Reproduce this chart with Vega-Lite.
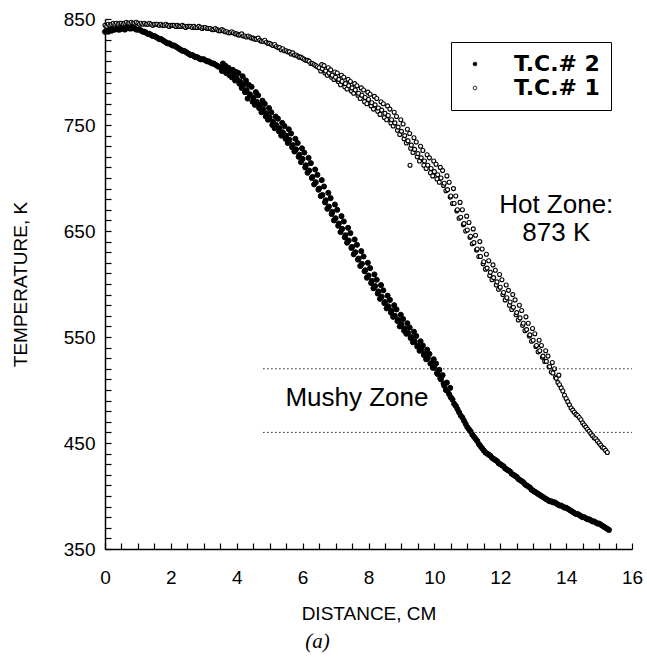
{
  "$schema": "https://vega.github.io/schema/vega-lite/v6.json",
  "width": 527,
  "height": 530,
  "autosize": {"type": "none"},
  "padding": {"left": 105, "top": 19, "right": 15, "bottom": 119},
  "config": {"view": {"stroke": null}, "font": "Liberation Sans"},
  "title": {"text": "(a)", "orient": "bottom", "font": "Liberation Serif", "fontStyle": "italic", "fontWeight": "normal", "fontSize": 21, "color": "black", "dx": -51, "offset": 8},
  "datasets": {
    "tc2": [
      {"d":0,"t":838},{"d":0.05,"t":839},{"d":0.1,"t":838},{"d":0.15,"t":840},{"d":0.2,"t":839},{"d":0.25,"t":840},{"d":0.3,"t":840},{"d":0.35,"t":841},{"d":0.4,"t":840},{"d":0.45,"t":840},{"d":0.5,"t":841},{"d":0.55,"t":841},{"d":0.6,"t":840},{"d":0.65,"t":841},{"d":0.7,"t":842},{"d":0.75,"t":841},{"d":0.8,"t":841},{"d":0.85,"t":842},{"d":0.9,"t":841},{"d":0.95,"t":840},
      {"d":1.0,"t":840},{"d":1.05,"t":840},{"d":1.1,"t":839},{"d":1.15,"t":838},{"d":1.2,"t":838},{"d":1.25,"t":837},{"d":1.3,"t":836},{"d":1.35,"t":836},{"d":1.4,"t":835},{"d":1.45,"t":834},{"d":1.5,"t":834},{"d":1.55,"t":833},{"d":1.6,"t":832},{"d":1.65,"t":831},{"d":1.7,"t":831},{"d":1.75,"t":830},{"d":1.8,"t":829},{"d":1.85,"t":828},{"d":1.9,"t":827},{"d":1.95,"t":827},
      {"d":2.0,"t":826},{"d":2.05,"t":825},{"d":2.1,"t":825},{"d":2.15,"t":824},{"d":2.2,"t":823},{"d":2.25,"t":822},{"d":2.3,"t":821},{"d":2.35,"t":820},{"d":2.4,"t":820},{"d":2.45,"t":819},{"d":2.5,"t":818},{"d":2.55,"t":817},{"d":2.6,"t":816},{"d":2.65,"t":816},{"d":2.7,"t":815},{"d":2.75,"t":814},{"d":2.8,"t":814},{"d":2.85,"t":813},{"d":2.9,"t":812},{"d":2.95,"t":812},
      {"d":3.0,"t":812},{"d":3.05,"t":811},{"d":3.1,"t":810},{"d":3.15,"t":810},{"d":3.2,"t":809},{"d":3.25,"t":808},{"d":3.3,"t":808},{"d":3.35,"t":807},{"d":3.4,"t":806},{"d":3.45,"t":805},
      {"d":3.5,"t":805},{"d":3.55,"t":801},{"d":3.58,"t":808},{"d":3.6,"t":803},{"d":3.65,"t":806},{"d":3.68,"t":799},{"d":3.7,"t":800},{"d":3.75,"t":804},{"d":3.78,"t":797},{"d":3.8,"t":799},{"d":3.85,"t":795},{"d":3.88,"t":802},{"d":3.9,"t":797},{"d":3.95,"t":792},{"d":3.98,"t":800},
      {"d":4.0,"t":794},{"d":4.05,"t":799},{"d":4.08,"t":789},{"d":4.1,"t":791},{"d":4.15,"t":785},{"d":4.18,"t":796},{"d":4.2,"t":788},{"d":4.25,"t":781},{"d":4.28,"t":792},{"d":4.3,"t":783},{"d":4.33,"t":775},{"d":4.36,"t":788},{"d":4.4,"t":779},{"d":4.45,"t":786},{"d":4.48,"t":772},{"d":4.5,"t":776},{"d":4.55,"t":769},{"d":4.58,"t":781},{"d":4.6,"t":772},{"d":4.65,"t":778},{"d":4.68,"t":766},{"d":4.7,"t":769},{"d":4.75,"t":762},{"d":4.78,"t":773},{"d":4.8,"t":765},{"d":4.85,"t":770},{"d":4.88,"t":758},{"d":4.9,"t":761},{"d":4.95,"t":755},{"d":4.98,"t":766},
      {"d":5.0,"t":757},{"d":5.05,"t":762},{"d":5.08,"t":750},{"d":5.1,"t":753},{"d":5.15,"t":747},{"d":5.18,"t":758},{"d":5.2,"t":750},{"d":5.25,"t":756},{"d":5.28,"t":744},{"d":5.3,"t":747},{"d":5.35,"t":740},{"d":5.38,"t":752},{"d":5.4,"t":743},{"d":5.45,"t":749},{"d":5.48,"t":737},{"d":5.5,"t":740},{"d":5.55,"t":733},{"d":5.58,"t":746},{"d":5.6,"t":736},{"d":5.65,"t":742},{"d":5.68,"t":729},{"d":5.7,"t":731},{"d":5.75,"t":725},{"d":5.78,"t":737},{"d":5.8,"t":727},{"d":5.85,"t":733},{"d":5.88,"t":720},{"d":5.9,"t":722},{"d":5.95,"t":715},{"d":5.98,"t":728},
      {"d":6.0,"t":718},{"d":6.05,"t":724},{"d":6.08,"t":710},{"d":6.1,"t":712},{"d":6.15,"t":705},{"d":6.18,"t":719},{"d":6.2,"t":707},{"d":6.25,"t":714},{"d":6.28,"t":700},{"d":6.3,"t":701},{"d":6.35,"t":694},{"d":6.38,"t":708},{"d":6.4,"t":696},{"d":6.45,"t":703},{"d":6.48,"t":689},{"d":6.5,"t":690},{"d":6.55,"t":683},{"d":6.58,"t":698},{"d":6.6,"t":684},{"d":6.65,"t":692},{"d":6.68,"t":677},{"d":6.7,"t":679},{"d":6.75,"t":671},{"d":6.78,"t":686},{"d":6.8,"t":673},{"d":6.85,"t":681},{"d":6.88,"t":666},{"d":6.9,"t":668},{"d":6.95,"t":660},{"d":6.98,"t":675},
      {"d":7.0,"t":662},{"d":7.05,"t":670},{"d":7.08,"t":655},{"d":7.1,"t":657},{"d":7.15,"t":649},{"d":7.18,"t":664},{"d":7.2,"t":652},{"d":7.25,"t":659},{"d":7.28,"t":644},{"d":7.3,"t":646},{"d":7.35,"t":639},{"d":7.38,"t":653},{"d":7.4,"t":641},{"d":7.45,"t":648},{"d":7.48,"t":634},{"d":7.5,"t":635},{"d":7.55,"t":628},{"d":7.58,"t":642},{"d":7.6,"t":630},{"d":7.65,"t":637},{"d":7.68,"t":623},{"d":7.7,"t":624},{"d":7.75,"t":617},{"d":7.78,"t":631},{"d":7.8,"t":619},{"d":7.85,"t":626},{"d":7.88,"t":612},{"d":7.9,"t":613},{"d":7.95,"t":606},{"d":7.98,"t":620},
      {"d":8.0,"t":608},{"d":8.05,"t":615},{"d":8.08,"t":601},{"d":8.1,"t":603},{"d":8.15,"t":596},{"d":8.18,"t":609},{"d":8.2,"t":598},{"d":8.25,"t":604},{"d":8.28,"t":591},{"d":8.3,"t":593},{"d":8.35,"t":586},{"d":8.38,"t":599},{"d":8.4,"t":588},{"d":8.45,"t":594},{"d":8.48,"t":582},{"d":8.5,"t":583},{"d":8.55,"t":577},{"d":8.58,"t":589},{"d":8.6,"t":579},{"d":8.65,"t":585},{"d":8.68,"t":573},{"d":8.7,"t":575},{"d":8.75,"t":569},{"d":8.78,"t":580},{"d":8.8,"t":570},{"d":8.85,"t":576},{"d":8.88,"t":565},{"d":8.9,"t":566},{"d":8.95,"t":560},{"d":8.98,"t":571},
      {"d":9.0,"t":562},{"d":9.05,"t":567},{"d":9.08,"t":556},{"d":9.1,"t":558},{"d":9.15,"t":553},{"d":9.18,"t":563},{"d":9.2,"t":554},{"d":9.25,"t":559},{"d":9.28,"t":549},{"d":9.3,"t":550},{"d":9.35,"t":545},{"d":9.38,"t":555},{"d":9.4,"t":546},{"d":9.45,"t":551},{"d":9.48,"t":541},{"d":9.5,"t":542},{"d":9.55,"t":537},{"d":9.58,"t":546},{"d":9.6,"t":538},{"d":9.65,"t":542},{"d":9.68,"t":533},{"d":9.7,"t":534},{"d":9.75,"t":529},{"d":9.78,"t":538},{"d":9.8,"t":530},{"d":9.85,"t":534},{"d":9.88,"t":525},{"d":9.9,"t":525},{"d":9.95,"t":521},{"d":9.98,"t":529},
      {"d":10.0,"t":521},{"d":10.05,"t":525},{"d":10.08,"t":516},{"d":10.1,"t":515},{"d":10.15,"t":519},{"d":10.18,"t":511},{"d":10.2,"t":510},{"d":10.25,"t":514},{"d":10.28,"t":506},{"d":10.3,"t":504},{"d":10.35,"t":500},{"d":10.38,"t":507},{"d":10.4,"t":499},{"d":10.45,"t":496},{"d":10.48,"t":502},
      {"d":10.5,"t":493},{"d":10.55,"t":491},{"d":10.6,"t":487},{"d":10.65,"t":485},{"d":10.7,"t":482},{"d":10.75,"t":479},{"d":10.8,"t":476},{"d":10.85,"t":474},{"d":10.9,"t":471},{"d":10.95,"t":468},
      {"d":11.0,"t":465},{"d":11.05,"t":463},{"d":11.1,"t":461},{"d":11.15,"t":458},{"d":11.2,"t":456},{"d":11.25,"t":454},{"d":11.3,"t":452},{"d":11.35,"t":449},{"d":11.4,"t":447},{"d":11.45,"t":445},{"d":11.5,"t":443},{"d":11.55,"t":441},{"d":11.6,"t":440},{"d":11.65,"t":439},{"d":11.7,"t":438},{"d":11.75,"t":436},{"d":11.8,"t":435},{"d":11.85,"t":434},{"d":11.9,"t":433},{"d":11.95,"t":431},
      {"d":12.0,"t":430},{"d":12.05,"t":429},{"d":12.1,"t":428},{"d":12.15,"t":426},{"d":12.2,"t":425},{"d":12.25,"t":424},{"d":12.3,"t":423},{"d":12.35,"t":421},{"d":12.4,"t":420},{"d":12.45,"t":419},{"d":12.5,"t":418},{"d":12.55,"t":416},{"d":12.6,"t":415},{"d":12.65,"t":414},{"d":12.7,"t":413},{"d":12.75,"t":411},{"d":12.8,"t":410},{"d":12.85,"t":409},{"d":12.9,"t":408},{"d":12.95,"t":406},
      {"d":13.0,"t":405},{"d":13.05,"t":404},{"d":13.1,"t":403},{"d":13.15,"t":402},{"d":13.2,"t":401},{"d":13.25,"t":400},{"d":13.3,"t":399},{"d":13.35,"t":398},{"d":13.4,"t":397},{"d":13.45,"t":396},{"d":13.5,"t":395},{"d":13.55,"t":395},{"d":13.6,"t":394},{"d":13.65,"t":394},{"d":13.7,"t":393},{"d":13.75,"t":392},{"d":13.8,"t":391},{"d":13.85,"t":391},{"d":13.9,"t":390},{"d":13.95,"t":389},
      {"d":14.0,"t":389},{"d":14.05,"t":388},{"d":14.1,"t":387},{"d":14.15,"t":386},{"d":14.2,"t":385},{"d":14.25,"t":384},{"d":14.3,"t":383},{"d":14.35,"t":383},{"d":14.4,"t":382},{"d":14.45,"t":381},{"d":14.5,"t":380},{"d":14.55,"t":380},{"d":14.6,"t":379},{"d":14.65,"t":378},{"d":14.7,"t":378},{"d":14.75,"t":377},{"d":14.8,"t":376},{"d":14.85,"t":376},{"d":14.9,"t":375},{"d":14.95,"t":374},
      {"d":15.0,"t":374},{"d":15.05,"t":373},{"d":15.1,"t":372},{"d":15.15,"t":371},{"d":15.2,"t":370},{"d":15.25,"t":369},{"d":15.3,"t":368}
    ],
    "tc1": [
      {"d":0,"t":844},{"d":0.05,"t":843},{"d":0.1,"t":845},{"d":0.15,"t":844},{"d":0.2,"t":845},{"d":0.25,"t":846},{"d":0.3,"t":845},{"d":0.35,"t":846},{"d":0.4,"t":845},{"d":0.45,"t":846},{"d":0.5,"t":846},{"d":0.55,"t":845},{"d":0.6,"t":846},{"d":0.65,"t":847},{"d":0.7,"t":846},{"d":0.75,"t":846},{"d":0.8,"t":847},{"d":0.85,"t":846},{"d":0.9,"t":846},{"d":0.95,"t":847},
      {"d":1.0,"t":846},{"d":1.05,"t":845},{"d":1.1,"t":846},{"d":1.15,"t":845},{"d":1.2,"t":846},{"d":1.25,"t":845},{"d":1.3,"t":845},{"d":1.35,"t":846},{"d":1.4,"t":845},{"d":1.45,"t":844},{"d":1.5,"t":845},{"d":1.55,"t":845},{"d":1.6,"t":845},{"d":1.65,"t":844},{"d":1.7,"t":845},{"d":1.75,"t":844},{"d":1.8,"t":844},{"d":1.85,"t":845},{"d":1.9,"t":844},{"d":1.95,"t":843},
      {"d":2.0,"t":844},{"d":2.05,"t":844},{"d":2.1,"t":844},{"d":2.15,"t":843},{"d":2.2,"t":844},{"d":2.25,"t":843},{"d":2.3,"t":843},{"d":2.35,"t":844},{"d":2.4,"t":843},{"d":2.45,"t":842},{"d":2.5,"t":843},{"d":2.55,"t":843},{"d":2.6,"t":843},{"d":2.65,"t":842},{"d":2.7,"t":843},{"d":2.75,"t":842},{"d":2.8,"t":842},{"d":2.85,"t":843},{"d":2.9,"t":842},{"d":2.95,"t":841},
      {"d":3.0,"t":842},{"d":3.05,"t":842},{"d":3.1,"t":841},{"d":3.15,"t":841},{"d":3.2,"t":841},{"d":3.25,"t":840},{"d":3.3,"t":840},{"d":3.35,"t":841},{"d":3.4,"t":840},{"d":3.45,"t":839},{"d":3.5,"t":839},{"d":3.55,"t":840},{"d":3.6,"t":839},{"d":3.65,"t":838},{"d":3.7,"t":838},{"d":3.75,"t":837},{"d":3.8,"t":837},{"d":3.85,"t":838},{"d":3.9,"t":837},{"d":3.95,"t":836},
      {"d":4.0,"t":836},{"d":4.05,"t":835},{"d":4.1,"t":835},{"d":4.15,"t":836},{"d":4.2,"t":834},{"d":4.25,"t":834},{"d":4.3,"t":833},{"d":4.35,"t":834},{"d":4.4,"t":833},{"d":4.45,"t":832},{"d":4.5,"t":832},{"d":4.55,"t":831},{"d":4.6,"t":831},{"d":4.65,"t":832},{"d":4.7,"t":830},{"d":4.75,"t":829},{"d":4.8,"t":829},{"d":4.85,"t":830},{"d":4.9,"t":828},{"d":4.95,"t":827},
      {"d":5.0,"t":827},{"d":5.05,"t":826},{"d":5.1,"t":825},{"d":5.15,"t":826},{"d":5.2,"t":824},{"d":5.25,"t":823},{"d":5.3,"t":823},{"d":5.35,"t":821},{"d":5.4,"t":822},{"d":5.45,"t":820},{"d":5.5,"t":820},{"d":5.55,"t":819},{"d":5.6,"t":819},{"d":5.65,"t":817},{"d":5.7,"t":818},{"d":5.75,"t":816},{"d":5.8,"t":816},{"d":5.85,"t":815},{"d":5.9,"t":814},{"d":5.95,"t":814},
      {"d":6.0,"t":813},{"d":6.05,"t":812},{"d":6.1,"t":811},{"d":6.15,"t":811},{"d":6.2,"t":810},{"d":6.25,"t":808},{"d":6.3,"t":808},{"d":6.35,"t":807},{"d":6.4,"t":806},{"d":6.45,"t":805},
      {"d":6.5,"t":804},{"d":6.55,"t":801},{"d":6.58,"t":807},{"d":6.6,"t":803},{"d":6.65,"t":806},{"d":6.68,"t":799},{"d":6.7,"t":801},{"d":6.75,"t":797},{"d":6.78,"t":804},{"d":6.8,"t":799},{"d":6.85,"t":802},{"d":6.88,"t":795},{"d":6.9,"t":797},{"d":6.95,"t":793},{"d":6.98,"t":800},
      {"d":7.0,"t":795},{"d":7.05,"t":799},{"d":7.08,"t":791},{"d":7.1,"t":793},{"d":7.15,"t":788},{"d":7.18,"t":797},{"d":7.2,"t":791},{"d":7.25,"t":795},{"d":7.28,"t":786},{"d":7.3,"t":789},{"d":7.35,"t":784},{"d":7.38,"t":793},{"d":7.4,"t":787},{"d":7.45,"t":791},{"d":7.48,"t":782},{"d":7.5,"t":785},{"d":7.55,"t":780},{"d":7.58,"t":789},{"d":7.6,"t":783},{"d":7.65,"t":787},{"d":7.68,"t":778},{"d":7.7,"t":780},{"d":7.75,"t":775},{"d":7.78,"t":785},{"d":7.8,"t":778},{"d":7.85,"t":783},{"d":7.88,"t":772},{"d":7.9,"t":776},{"d":7.95,"t":770},{"d":7.98,"t":781},
      {"d":8.0,"t":774},{"d":8.05,"t":779},{"d":8.08,"t":768},{"d":8.1,"t":771},{"d":8.15,"t":765},{"d":8.18,"t":777},{"d":8.2,"t":769},{"d":8.25,"t":775},{"d":8.28,"t":763},{"d":8.3,"t":766},{"d":8.35,"t":760},{"d":8.38,"t":772},{"d":8.4,"t":764},{"d":8.45,"t":770},{"d":8.48,"t":757},{"d":8.5,"t":761},{"d":8.55,"t":755},{"d":8.58,"t":768},{"d":8.6,"t":759},{"d":8.65,"t":765},{"d":8.68,"t":752},{"d":8.7,"t":755},{"d":8.75,"t":749},{"d":8.78,"t":762},{"d":8.8,"t":752},{"d":8.85,"t":758},{"d":8.88,"t":745},{"d":8.9,"t":748},{"d":8.95,"t":741},{"d":8.98,"t":755},
      {"d":9.0,"t":744},{"d":9.05,"t":751},{"d":9.08,"t":737},{"d":9.1,"t":740},{"d":9.15,"t":733},{"d":9.18,"t":746},{"d":9.2,"t":735},{"d":9.25,"t":742},{"d":9.26,"t":712},{"d":9.28,"t":728},{"d":9.3,"t":731},{"d":9.35,"t":724},{"d":9.38,"t":738},{"d":9.4,"t":727},{"d":9.45,"t":734},{"d":9.48,"t":720},{"d":9.5,"t":723},{"d":9.55,"t":716},{"d":9.58,"t":730},{"d":9.6,"t":719},{"d":9.65,"t":726},{"d":9.68,"t":712},{"d":9.7,"t":716},{"d":9.75,"t":709},{"d":9.78,"t":722},{"d":9.8,"t":712},{"d":9.85,"t":719},{"d":9.88,"t":705},{"d":9.9,"t":709},{"d":9.95,"t":702},{"d":9.98,"t":716},
      {"d":10.0,"t":706},{"d":10.05,"t":713},{"d":10.08,"t":699},{"d":10.1,"t":703},{"d":10.15,"t":696},{"d":10.18,"t":710},{"d":10.2,"t":700},{"d":10.25,"t":707},{"d":10.28,"t":693},{"d":10.3,"t":695},{"d":10.35,"t":688},{"d":10.38,"t":702},{"d":10.4,"t":689},{"d":10.45,"t":696},{"d":10.48,"t":682},{"d":10.5,"t":683},{"d":10.55,"t":676},{"d":10.58,"t":690},{"d":10.6,"t":676},{"d":10.65,"t":683},{"d":10.68,"t":669},{"d":10.7,"t":670},{"d":10.75,"t":662},{"d":10.78,"t":677},{"d":10.8,"t":663},{"d":10.85,"t":670},{"d":10.88,"t":656},{"d":10.9,"t":657},{"d":10.95,"t":650},{"d":10.98,"t":664},
      {"d":11.0,"t":651},{"d":11.05,"t":658},{"d":11.08,"t":644},{"d":11.1,"t":645},{"d":11.15,"t":638},{"d":11.18,"t":652},{"d":11.2,"t":639},{"d":11.25,"t":646},{"d":11.28,"t":632},{"d":11.3,"t":633},{"d":11.35,"t":626},{"d":11.38,"t":640},{"d":11.4,"t":626},{"d":11.45,"t":633},{"d":11.48,"t":619},{"d":11.5,"t":621},{"d":11.55,"t":614},{"d":11.58,"t":628},{"d":11.6,"t":615},{"d":11.65,"t":622},{"d":11.68,"t":608},{"d":11.7,"t":611},{"d":11.75,"t":604},{"d":11.78,"t":618},{"d":11.8,"t":606},{"d":11.85,"t":613},{"d":11.88,"t":599},{"d":11.9,"t":602},{"d":11.95,"t":595},{"d":11.98,"t":609},
      {"d":12.0,"t":597},{"d":12.05,"t":604},{"d":12.08,"t":590},{"d":12.1,"t":592},{"d":12.15,"t":585},{"d":12.18,"t":599},{"d":12.2,"t":587},{"d":12.25,"t":594},{"d":12.28,"t":580},{"d":12.3,"t":583},{"d":12.35,"t":576},{"d":12.38,"t":590},{"d":12.4,"t":578},{"d":12.45,"t":585},{"d":12.48,"t":571},{"d":12.5,"t":573},{"d":12.55,"t":566},{"d":12.58,"t":580},{"d":12.6,"t":568},{"d":12.65,"t":575},{"d":12.68,"t":561},{"d":12.7,"t":563},{"d":12.75,"t":556},{"d":12.78,"t":569},{"d":12.8,"t":557},{"d":12.85,"t":563},{"d":12.88,"t":551},{"d":12.9,"t":552},{"d":12.95,"t":546},{"d":12.98,"t":558},
      {"d":13.0,"t":547},{"d":13.05,"t":553},{"d":13.08,"t":541},{"d":13.1,"t":542},{"d":13.15,"t":536},{"d":13.18,"t":547},{"d":13.2,"t":537},{"d":13.25,"t":542},{"d":13.28,"t":531},{"d":13.3,"t":532},{"d":13.35,"t":527},{"d":13.38,"t":537},{"d":13.4,"t":527},{"d":13.45,"t":532},{"d":13.48,"t":522},{"d":13.5,"t":522},{"d":13.55,"t":517},{"d":13.58,"t":526},{"d":13.6,"t":516},{"d":13.65,"t":520},{"d":13.68,"t":512},{"d":13.7,"t":511},{"d":13.75,"t":507},{"d":13.78,"t":514},
      {"d":13.8,"t":505},{"d":13.85,"t":502},{"d":13.9,"t":499},{"d":13.95,"t":495},{"d":14.0,"t":492},{"d":14.05,"t":489},{"d":14.1,"t":486},{"d":14.15,"t":483},{"d":14.2,"t":481},{"d":14.25,"t":479},{"d":14.3,"t":477},{"d":14.35,"t":476},{"d":14.4,"t":474},{"d":14.45,"t":472},{"d":14.5,"t":469},{"d":14.55,"t":467},{"d":14.6,"t":465},{"d":14.65,"t":463},{"d":14.7,"t":461},{"d":14.75,"t":459},{"d":14.8,"t":457},{"d":14.85,"t":455},{"d":14.9,"t":454},{"d":14.95,"t":452},{"d":15.0,"t":450},{"d":15.05,"t":448},{"d":15.1,"t":446},{"d":15.15,"t":445},{"d":15.2,"t":443},{"d":15.25,"t":441}
    ],
    "zones": [{"d": 4.8, "d2": 16, "t": 520}, {"d": 4.8, "d2": 16, "t": 460}],
    "notes": [
      {"d": 13.7, "t": 675, "label": "Hot Zone:"},
      {"d": 13.7, "t": 648, "label": "873 K"},
      {"d": 7.65, "t": 492, "label": "Mushy Zone"}
    ]
  },
  "encoding": {
    "x": {
      "field": "d", "type": "quantitative",
      "scale": {"domain": [0, 16], "nice": false, "zero": false},
      "axis": {
        "title": "DISTANCE, CM",
        "values": [0,0.5,1,1.5,2,2.5,3,3.5,4,4.5,5,5.5,6,6.5,7,7.5,8,8.5,9,9.5,10,10.5,11,11.5,12,12.5,13,13.5,14,14.5,15,15.5,16],
        "labelExpr": "datum.value % 2 === 0 ? datum.value : ''",
        "tickSize": -6,
        "grid": false, "domainColor": "black", "domainWidth": 1.5, "tickColor": "black", "tickWidth": 1.2,
        "labelFont": "Liberation Sans", "labelFontSize": 19, "labelColor": "black", "labelPadding": 25,
        "labelOverlap": false, "labelFlush": false, "labelBound": false,
        "titleFont": "Liberation Sans", "titleFontSize": 19, "titleFontWeight": "normal", "titleColor": "black", "titlePadding": 17
      }
    },
    "y": {
      "field": "t", "type": "quantitative",
      "scale": {"domain": [350, 850], "nice": false, "zero": false},
      "axis": {
        "title": "TEMPERATURE, K",
        "values": [350,360,370,380,390,400,410,420,430,440,450,460,470,480,490,500,510,520,530,540,550,560,570,580,590,600,610,620,630,640,650,660,670,680,690,700,710,720,730,740,750,760,770,780,790,800,810,820,830,840,850],
        "labelExpr": "datum.value % 100 === 50 ? datum.value : ''",
        "tickSize": -6,
        "grid": false, "domainColor": "black", "domainWidth": 1.5, "tickColor": "black", "tickWidth": 1.2,
        "labelFont": "Liberation Sans", "labelFontSize": 19, "labelColor": "black", "labelPadding": 16,
        "labelOverlap": false, "labelFlush": false, "labelBound": false,
        "titleFont": "Liberation Sans", "titleFontSize": 19, "titleFontWeight": "normal", "titleColor": "black", "titlePadding": 33
      }
    }
  },
  "layer": [
    {
      "data": {"name": "tc1"},
      "mark": {"type": "point", "shape": "circle", "size": 16, "stroke": "black", "strokeWidth": 1.1, "opacity": 1},
      "encoding": {
        "fill": {
          "datum": "T.C.# 1", "type": "nominal",
          "scale": {"domain": ["T.C.# 2", "T.C.# 1"], "range": ["black", "white"]},
          "legend": {
            "title": null, "orient": "none", "legendX": 346, "legendY": 23,
            "strokeColor": "black", "fillColor": "white", "padding": 11,
            "labelFont": "DejaVu Sans", "labelFontWeight": "bold", "labelFontSize": 22, "labelColor": "black",
            "symbolType": "circle", "symbolSize": 14, "symbolStrokeColor": "black", "symbolStrokeWidth": 0.8,
            "symbolOffset": 2, "labelOffset": 28, "rowPadding": 2
          }
        }
      }
    },
    {
      "data": {"name": "tc2"},
      "mark": {"type": "point", "shape": "circle", "size": 26, "stroke": "black", "strokeWidth": 1, "opacity": 1},
      "encoding": {
        "fill": {"datum": "T.C.# 2", "type": "nominal"}
      }
    },
    {
      "data": {"name": "zones"},
      "mark": {"type": "rule", "color": "#222", "strokeWidth": 1, "strokeDash": [1.5, 2.5]},
      "encoding": {"x2": {"field": "d2"}}
    },
    {
      "data": {"name": "notes"},
      "mark": {"type": "text", "font": "Liberation Sans", "fontSize": 26, "color": "black", "align": "center", "baseline": "middle"},
      "encoding": {"text": {"field": "label"}}
    }
  ]
}
